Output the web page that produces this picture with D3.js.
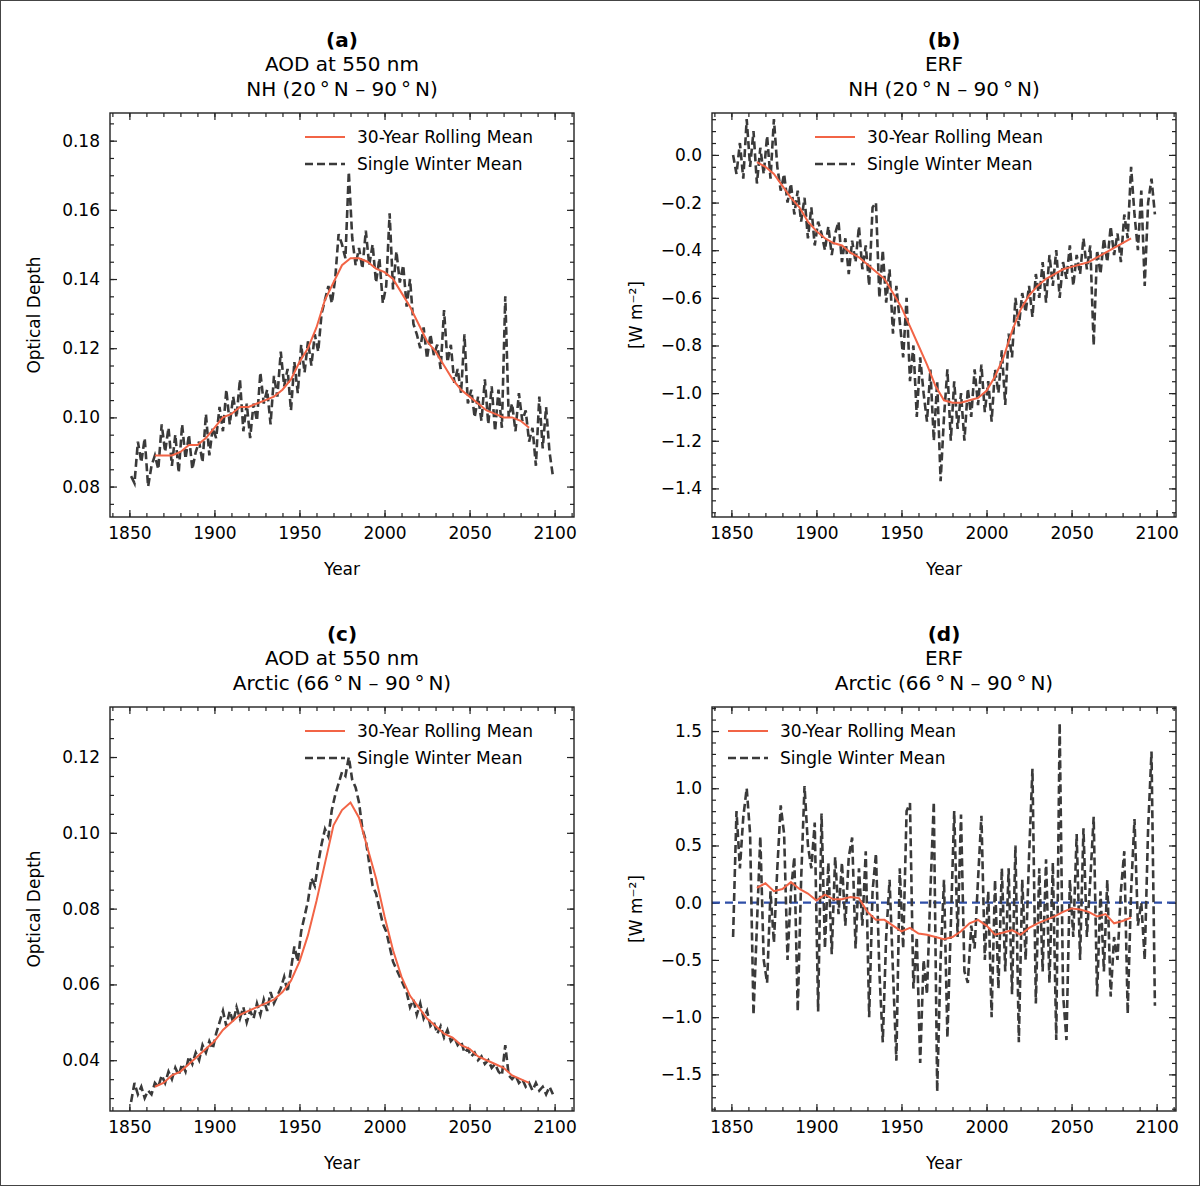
<!DOCTYPE html>
<html>
<head>
<meta charset="utf-8">
<script src="https://cdn.jsdelivr.net/npm/d3@7"></script>
<style>
  body { margin: 0; background: #fff; }
  svg text { font-family: "DejaVu Sans", sans-serif; fill: #000; }
</style>
</head>
<body>
<svg id="fig" width="1200" height="1186"></svg>
<script>
// Years for the single-winter series (every other winter) and the rolling means
const winterYears = d3.range(1851, 2100, 2);
const rollYears = d3.range(1865, 2086, 5);

// (a) AOD NH
const aodNH = [
  .083,.081,.093,.087,.094, .080,.086,.089,.085,.098,
  .090,.097,.086,.095,.084, .098,.088,.095,.085,.090,
  .093,.087,.101,.089,.097, .094,.103,.096,.108,.098,
  .106,.100,.111,.096,.104, .094,.104,.099,.113,.104,
  .108,.098,.112,.106,.119, .109,.114,.102,.116,.107,
  .121,.113,.122,.115,.124, .119,.130,.134,.138,.133,
  .140,.153,.150,.146,.171, .152,.144,.149,.143,.154,
  .144,.150,.139,.146,.133, .138,.159,.137,.148,.139,
  .144,.132,.140,.127,.124, .120,.126,.117,.124,.118,
  .121,.114,.131,.116,.121, .110,.114,.107,.124,.104,
  .108,.100,.106,.099,.111, .098,.109,.096,.108,.097,
  .135,.100,.104,.096,.107, .099,.102,.093,.097,.086,
  .106,.091,.103,.090,.083
];
const aodNHRoll = [
  .089,.089,.089,.090,.092,.092,.094,.097,.100,.101,
  .103,.103,.104,.105,.106,.108,.111,.116,.120,.126,
  .134,.139,.144,.146,.146,.145,.143,.142,.140,.136,
  .132,.127,.122,.119,.115,.111,.108,.106,.104,.102,
  .101,.100,.100,.099,.097
];

// (b) ERF NH
const erfNH = [
  0.0,-0.08,0.05,-0.1,0.15, -0.05,0.1,-0.12,0.03,-0.08,
  0.08,-0.1,0.15,-0.05,-0.15, -0.08,-0.2,-0.12,-0.25,-0.15,
  -0.28,-0.18,-0.35,-0.22,-0.38, -0.28,-0.33,-0.4,-0.3,-0.42,
  -0.33,-0.28,-0.45,-0.35,-0.5, -0.36,-0.45,-0.3,-0.48,-0.38,
  -0.55,-0.22,-0.2,-0.6,-0.4, -0.62,-0.48,-0.75,-0.55,-0.7,
  -0.85,-0.6,-0.95,-0.8,-1.1, -0.85,-1.0,-1.12,-0.9,-1.2,
  -0.95,-1.37,-1.1,-0.9,-1.2, -0.95,-1.15,-1.0,-1.2,-0.98,
  -1.1,-0.9,-1.05,-0.88,-1.08, -0.95,-1.12,-0.9,-1.0,-0.82,
  -1.05,-0.75,-0.85,-0.6,-0.72, -0.58,-0.66,-0.55,-0.68,-0.5,
  -0.6,-0.45,-0.62,-0.42,-0.55, -0.4,-0.6,-0.45,-0.52,-0.38,
  -0.55,-0.42,-0.5,-0.35,-0.48, -0.38,-0.8,-0.4,-0.5,-0.35,
  -0.45,-0.3,-0.42,-0.33,-0.45, -0.25,-0.35,-0.05,-0.25,-0.4,
  -0.15,-0.55,-0.2,-0.1,-0.25
];
const erfNHRoll = [
  -0.03,-0.05,-0.08,-0.13,-0.18,-0.22,-0.28,-0.32,-0.35,-0.37,
  -0.38,-0.41,-0.43,-0.46,-0.49,-0.52,-0.58,-0.64,-0.72,-0.8,
  -0.88,-0.97,-1.03,-1.04,-1.04,-1.03,-1.02,-0.99,-0.93,-0.85,
  -0.74,-0.65,-0.59,-0.55,-0.52,-0.5,-0.48,-0.47,-0.46,-0.45,
  -0.43,-0.41,-0.39,-0.37,-0.35
];

// (c) AOD Arctic
const aodAr = [
  .029,.034,.031,.033,.030, .032,.031,.034,.033,.036,
  .034,.037,.035,.038,.036, .039,.037,.041,.039,.042,
  .040,.044,.042,.045,.043, .047,.050,.053,.049,.053,
  .050,.054,.051,.054,.050, .053,.051,.055,.052,.056,
  .053,.058,.055,.057,.059, .062,.058,.064,.070,.066,
  .074,.078,.082,.088,.086, .092,.097,.101,.099,.106,
  .110,.113,.116,.115,.120, .114,.112,.108,.101,.098,
  .092,.086,.084,.080,.076, .074,.070,.066,.064,.062,
  .060,.058,.054,.056,.052, .055,.051,.053,.049,.050,
  .047,.049,.046,.048,.045, .046,.044,.045,.042,.043,
  .041,.042,.040,.041,.039, .040,.038,.039,.037,.036,
  .044,.036,.035,.036,.034, .035,.033,.034,.032,.034,
  .032,.033,.031,.033,.031
];
const aodArRoll = [
  .033,.034,.036,.037,.039,.041,.043,.045,.048,.050,
  .052,.053,.054,.055,.056,.058,.061,.066,.073,.082,
  .092,.102,.106,.108,.104,.096,.088,.078,.069,.062,
  .057,.054,.051,.049,.047,.046,.044,.043,.041,.040,
  .039,.038,.036,.035,.034
];

// (d) ERF Arctic
const erfAr = [
  -0.3,0.8,0.3,0.75,1.0, 0.6,-0.98,-0.2,0.58,-0.5,
  -0.7,0.1,-0.35,0.3,0.85, 0.6,-0.5,0.1,0.4,-0.95,
  0.2,1.02,0.5,0.3,0.7, -0.95,0.78,-0.4,0.35,-0.45,
  0.4,-0.1,0.35,-0.2,0.4, 0.57,-0.4,0.3,-0.2,0.45,
  -1.0,0.1,0.43,-0.6,-1.22, -0.3,0.2,-0.6,-1.38,0.3,
  -0.4,0.8,0.87,-0.75,-0.3, -1.4,-0.5,-0.8,0.1,0.88,
  -1.65,-0.5,0.2,-1.18,-0.2, 0.8,-0.3,0.77,-0.6,-0.7,
  -0.2,-0.4,0.2,0.76,-0.5, 0.1,-1.0,0.2,-0.75,0.3,
  -0.6,0.3,-0.8,0.5,-1.22, 0.2,-0.5,0.4,1.17,-0.88,
  0.3,-0.6,0.38,-0.7,0.35, -1.2,1.57,-0.8,-1.2,0.2,
  -0.3,0.6,-0.5,0.65,-0.3, 0.2,0.75,-0.82,0.1,-0.6,
  0.2,-0.82,-0.3,-0.5,0.1, 0.45,-0.97,0.1,0.73,-0.2,
  0.0,-0.5,0.65,1.32,-0.9
];
const erfArRoll = [
  0.13,0.17,0.1,0.12,0.18,0.12,0.08,0.02,0.07,0.03,
  0.03,0.05,0.04,-0.08,-0.15,-0.15,-0.2,-0.25,-0.22,-0.27,
  -0.28,-0.3,-0.32,-0.3,-0.25,-0.18,-0.15,-0.2,-0.28,-0.26,
  -0.24,-0.28,-0.22,-0.18,-0.15,-0.12,-0.08,-0.05,-0.06,-0.08,
  -0.12,-0.1,-0.18,-0.16,-0.13
];

const xTicks = [1850, 1900, 1950, 2000, 2050, 2100];
const wm2 = "[W m\u207B\u00B2]";

const panels = [
  { tag: "(a)", t1: "AOD at 550 nm", t2: "NH (20\u2009\u00B0\u2009N \u2013 90\u2009\u00B0\u2009N)",
    single: aodNH, roll: aodNHRoll, yDom: [0.0712, 0.188], yMajor: 0.02, yMinor: 0.005, fmt: ".2f",
    ylab: "Optical Depth", left: 110, top: 113, legX: 305, zero: false },
  { tag: "(b)", t1: "ERF", t2: "NH (20\u2009\u00B0\u2009N \u2013 90\u2009\u00B0\u2009N)",
    single: erfNH, roll: erfNHRoll, yDom: [-1.52, 0.176], yMajor: 0.2, yMinor: 0.05, fmt: ".1f",
    ylab: wm2, left: 712, top: 113, legX: 815, zero: false },
  { tag: "(c)", t1: "AOD at 550 nm", t2: "Arctic (66\u2009\u00B0\u2009N \u2013 90\u2009\u00B0\u2009N)",
    single: aodAr, roll: aodArRoll, yDom: [0.0266, 0.1332], yMajor: 0.02, yMinor: 0.005, fmt: ".2f",
    ylab: "Optical Depth", left: 110, top: 707, legX: 305, zero: false },
  { tag: "(d)", t1: "ERF", t2: "Arctic (66\u2009\u00B0\u2009N \u2013 90\u2009\u00B0\u2009N)",
    single: erfAr, roll: erfArRoll, yDom: [-1.82, 1.71], yMajor: 0.5, yMinor: 0.1, fmt: ".1f",
    ylab: wm2, left: 712, top: 707, legX: 728, zero: true }
];

const W = 464, H = 404;
const svg = d3.select("#fig");
svg.append("rect").attr("x", 0.5).attr("y", 0.5).attr("width", 1199).attr("height", 1185)
  .attr("fill", "none").attr("stroke", "#444").attr("stroke-width", 1);

const minus = s => s.replace("-", "\u2212");

panels.forEach(p => {
  const g = svg.append("g").attr("transform", `translate(${p.left},${p.top})`);
  const x = d3.scaleLinear().domain([1838.6, 2111.4]).range([0, W]);
  const y = d3.scaleLinear().domain(p.yDom).range([H, 0]);

  // titles
  const cx = W / 2;
  g.append("text").attr("x", cx).attr("y", -66).attr("text-anchor", "middle")
    .attr("font-size", 20).attr("font-weight", "bold").text(p.tag);
  g.append("text").attr("x", cx).attr("y", -42).attr("text-anchor", "middle")
    .attr("font-size", 20).text(p.t1);
  g.append("text").attr("x", cx).attr("y", -17).attr("text-anchor", "middle")
    .attr("font-size", 20).text(p.t2);

  // ticks
  const yMaj = d3.range(Math.ceil(p.yDom[0] / p.yMajor - 1e-6) * p.yMajor, p.yDom[1] + 1e-9, p.yMajor);
  const yMin = d3.range(Math.ceil(p.yDom[0] / p.yMinor - 1e-6) * p.yMinor, p.yDom[1] + 1e-9, p.yMinor);
  const xMin = d3.range(1840, 2111, 10);

  const axB = d3.axisBottom(x).tickValues(xTicks).tickFormat(d3.format("d")).tickSizeInner(-7).tickSizeOuter(0).tickPadding(10);
  const axL = d3.axisLeft(y).tickValues(yMaj).tickFormat(d => minus(d3.format(p.fmt)(d))).tickSizeInner(-7).tickSizeOuter(0).tickPadding(10);
  const gb = g.append("g").attr("transform", `translate(0,${H})`).call(axB);
  const gl = g.append("g").call(axL);
  g.append("g").call(d3.axisTop(x).tickValues(xTicks).tickFormat("").tickSizeInner(-7).tickSizeOuter(0));
  g.append("g").attr("transform", `translate(${W},0)`).call(d3.axisRight(y).tickValues(yMaj).tickFormat("").tickSizeInner(-7).tickSizeOuter(0));
  g.append("g").attr("transform", `translate(0,${H})`).call(d3.axisBottom(x).tickValues(xMin).tickFormat("").tickSizeInner(-4).tickSizeOuter(0));
  g.append("g").call(d3.axisTop(x).tickValues(xMin).tickFormat("").tickSizeInner(-4).tickSizeOuter(0));
  g.append("g").call(d3.axisLeft(y).tickValues(yMin).tickFormat("").tickSizeInner(-4).tickSizeOuter(0));
  g.append("g").attr("transform", `translate(${W},0)`).call(d3.axisRight(y).tickValues(yMin).tickFormat("").tickSizeInner(-4).tickSizeOuter(0));
  g.selectAll(".domain").remove();
  g.selectAll(".tick line").attr("stroke", "#222").attr("stroke-width", 1.2);
  [gb, gl].forEach(a => a.selectAll("text").attr("font-size", 17).style("font-family", "DejaVu Sans"));

  // zero line
  if (p.zero) {
    g.append("line").attr("x1", 0).attr("x2", W).attr("y1", y(0)).attr("y2", y(0))
      .attr("stroke", "#2f4fa8").attr("stroke-width", 2.2).attr("stroke-dasharray", "8,5");
  }

  const line = d3.line().x(d => x(d[0])).y(d => y(d[1]));
  g.append("path").datum(winterYears.map((yr, i) => [yr, p.single[i]]))
    .attr("d", line).attr("fill", "none").attr("stroke", "#3a3a3a")
    .attr("stroke-width", 2.6).attr("stroke-dasharray", "8,4");
  g.append("path").datum(rollYears.map((yr, i) => [yr, p.roll[i]]))
    .attr("d", line).attr("fill", "none").attr("stroke", "#f26446").attr("stroke-width", 2);

  // frame
  g.append("rect").attr("width", W).attr("height", H).attr("fill", "none")
    .attr("stroke", "#222").attr("stroke-width", 1.4);

  // axis labels
  g.append("text").attr("x", cx).attr("y", H + 58).attr("text-anchor", "middle")
    .attr("font-size", 17).text("Year");
  g.append("text").attr("transform", `translate(-70,${H / 2}) rotate(-90)`)
    .attr("text-anchor", "middle").attr("font-size", 17).text(p.ylab);

  // legend
  const lx = p.legX - p.left;
  [["30-Year Rolling Mean", "#f26446", null, 2], ["Single Winter Mean", "#3a3a3a", "8,4", 2.6]].forEach((L, i) => {
    const ly = 24 + i * 27;
    g.append("line").attr("x1", lx).attr("x2", lx + 40).attr("y1", ly).attr("y2", ly)
      .attr("stroke", L[1]).attr("stroke-width", L[3]).attr("stroke-dasharray", L[2]);
    g.append("text").attr("x", lx + 52).attr("y", ly + 6).attr("font-size", 17).text(L[0]);
  });
});
</script>
</body>
</html>
